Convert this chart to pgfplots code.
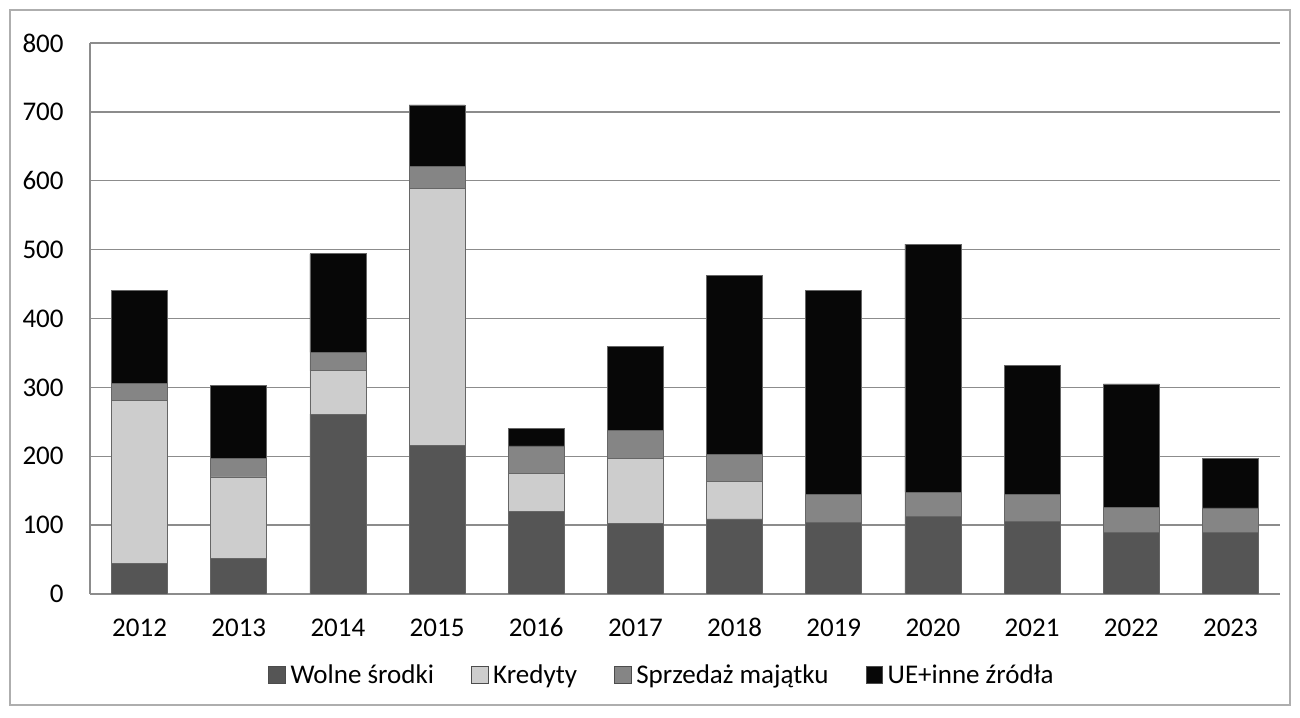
\documentclass[border=0pt]{standalone}
\usepackage{pgfplots}
\pgfplotsset{compat=1.18}
\usepackage{fontspec}
\setmainfont{Carlito}
\definecolor{cW}{HTML}{555555}
\definecolor{cK}{HTML}{CDCDCD}
\definecolor{cS}{HTML}{858585}
\definecolor{cU}{HTML}{070707}
\definecolor{gridc}{HTML}{8C8C8C}
\begin{document}
\begin{tikzpicture}
\begin{axis}[
  at={(45pt,61.5pt)}, anchor=south west,
  scale only axis, width=595pt, height=275.5pt,
  ybar stacked, bar width=28pt,
  xmin=-0.5, xmax=11.5, ymin=0, ymax=800,
  xtick={0,...,11},
  xticklabels={2012,2013,2014,2015,2016,2017,2018,2019,2020,2021,2022,2023},
  ytick={0,100,...,800},
  ymajorgrids, grid style={gridc, line width=0.7pt},
  axis lines*=left,
  axis line style={gridc, line width=0.7pt, -},
  major tick length=0pt,
  tick style={draw=none},
  ticklabel style={font=\fontsize{13.5}{15}\selectfont},
  yticklabel style={anchor=east, inner sep=0pt, xshift=-13pt},
  xticklabel style={anchor=base, inner sep=0pt, yshift=-21.5pt},
  /pgf/number format/assume math mode=true,
  legend columns=4,
  legend style={at={(0.481,-0.149)}, anchor=center, draw=none,
    font=\fontsize{13.5}{15}\selectfont,
    nodes={inner sep=1.5pt},
    /tikz/every odd column/.append style={column sep=1pt},
    /tikz/every even column/.append style={column sep=17pt}},
  legend image code/.code={\draw[#1, draw=gray!60!black, line width=0.3pt] (0pt,-3.4pt) rectangle (8.3pt,4.9pt);},
  every axis plot/.append style={draw=black!60, line width=0.4pt},
]
\addplot[fill=cW] coordinates {(0,45) (1,52) (2,261) (3,216) (4,120) (5,103) (6,109) (7,104) (8,112) (9,105) (10,90) (11,89)};
\addplot[fill=cK] coordinates {(0,236) (1,118) (2,63) (3,373) (4,55) (5,94) (6,55) (7,0) (8,0) (9,0) (10,0) (11,0)};
\addplot[fill=cS] coordinates {(0,25) (1,27) (2,27) (3,32) (4,40) (5,40) (6,39) (7,41) (8,36) (9,39) (10,36) (11,36)};
\addplot[fill=cU] coordinates {(0,135) (1,106) (2,143) (3,89) (4,26) (5,123) (6,259) (7,296) (8,360) (9,188) (10,179) (11,72)};
\legend{Wolne środki, Kredyty, Sprzedaż majątku, UE+inne źródła}
\end{axis}
\draw[gridc!70, line width=0.6pt] (5pt,6pt) rectangle (645pt,353.5pt);
\useasboundingbox (0pt,0pt) rectangle (650pt,358.5pt);
\end{tikzpicture}
\end{document}
